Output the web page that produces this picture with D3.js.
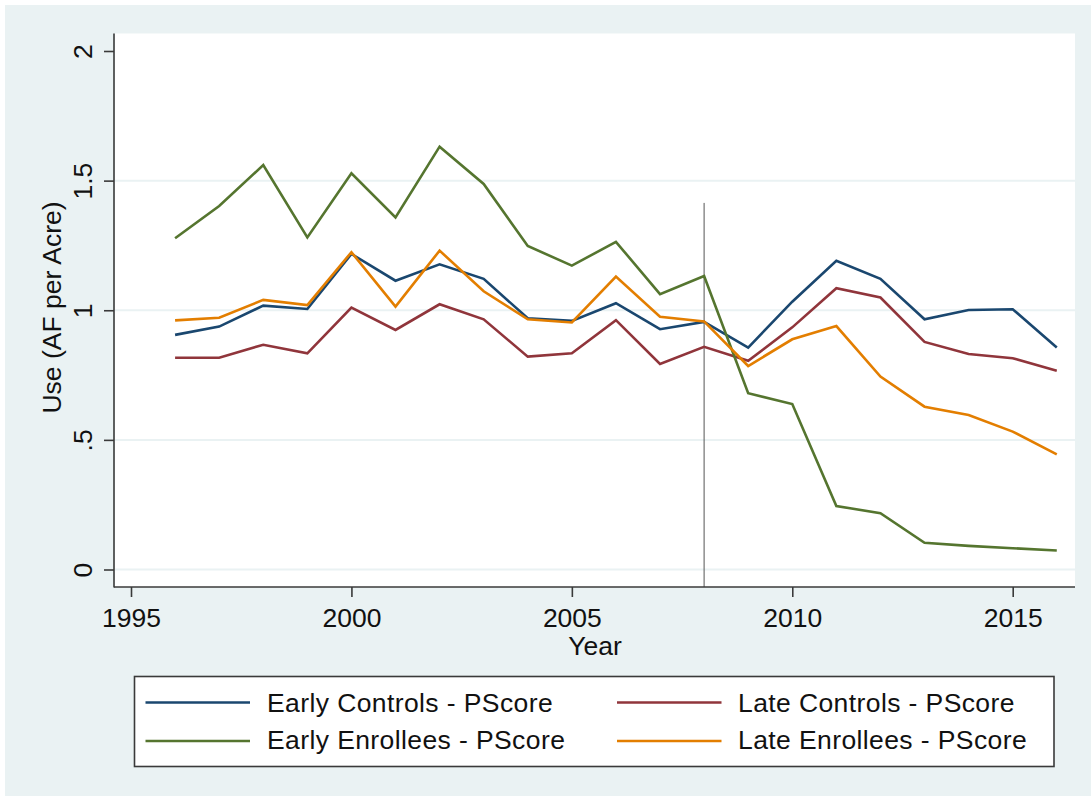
<!DOCTYPE html>
<html>
<head>
<meta charset="utf-8">
<script src="https://cdn.jsdelivr.net/npm/d3@7"></script>
<style>
  html, body { margin: 0; padding: 0; background: #ffffff; }
  svg { display: block; font-family: "Liberation Sans", Arial, Helvetica, sans-serif; }
</style>
</head>
<body>
<svg id="chart" width="1091" height="801"></svg>
<script>
// Annual water use by enrollment group, 1996-2016
const years = [1996, 1997, 1998, 1999, 2000, 2001, 2002, 2003, 2004, 2005, 2006,
               2007, 2008, 2009, 2010, 2011, 2012, 2013, 2014, 2015, 2016];

const earlyControls = [0.905, 0.937, 1.018, 1.005, 1.217, 1.114, 1.177, 1.121, 0.969, 0.959, 1.027,
                       0.927, 0.955, 0.856, 1.033, 1.191, 1.121, 0.965, 1.001, 1.004, 0.856];
const lateControls  = [0.817, 0.817, 0.867, 0.834, 1.010, 0.924, 1.023, 0.965, 0.821, 0.834, 0.962,
                       0.793, 0.859, 0.805, 0.934, 1.085, 1.049, 0.878, 0.831, 0.815, 0.767];
const earlyEnrollees = [1.278, 1.402, 1.560, 1.281, 1.528, 1.358, 1.631, 1.487, 1.248, 1.172, 1.264,
                        1.062, 1.132, 0.680, 0.638, 0.245, 0.217, 0.103, 0.091, 0.082, 0.073];
const lateEnrollees = [0.961, 0.971, 1.040, 1.020, 1.224, 1.014, 1.230, 1.073, 0.965, 0.953, 1.130,
                       0.975, 0.957, 0.785, 0.888, 0.939, 0.744, 0.628, 0.596, 0.532, 0.444];

const seriesNames = ["Early Controls - PScore", "Late Controls - PScore",
                     "Early Enrollees - PScore", "Late Enrollees - PScore"];

const xTickValues = [1995, 2000, 2005, 2010, 2015];
const yTickValues = [0, 0.5, 1, 1.5, 2];
const yTickLabels = ["0", ".5", "1", "1.5", "2"];
const yGridValues = [0, 0.5, 1, 1.5];

// Program start marker
const markerYear = 2008;
const markerTop = 1.414;

const series = [
  { name: seriesNames[0], values: earlyControls,  color: "#1a476f" },
  { name: seriesNames[1], values: lateControls,   color: "#90353b" },
  { name: seriesNames[2], values: earlyEnrollees, color: "#55752f" },
  { name: seriesNames[3], values: lateEnrollees,  color: "#e37e00" }
];

const svg = d3.select("#chart");
const W = 1091, H = 801;
const plot = { left: 115, right: 1075, top: 33.5, bottom: 587 };

const x = d3.scaleLinear().domain([1995, 2015]).range([131, 1012.7]);
const y = d3.scaleLinear().domain([0, 2]).range([569.5, 51]);

// Graph background and plot region
svg.append("rect").attr("x", 0).attr("y", 0).attr("width", W).attr("height", H).attr("fill", "#ffffff");
svg.append("rect").attr("x", 5).attr("y", 5).attr("width", W - 5).attr("height", H - 10).attr("fill", "#eaf2f3");
svg.append("rect")
  .attr("x", plot.left).attr("y", plot.top)
  .attr("width", plot.right - plot.left).attr("height", plot.bottom - plot.top)
  .attr("fill", "#ffffff");

// Horizontal grid
svg.append("g").selectAll("line").data(yGridValues).join("line")
  .attr("x1", plot.left).attr("x2", plot.right)
  .attr("y1", d => y(d)).attr("y2", d => y(d))
  .attr("stroke", "#eaf2f3").attr("stroke-width", 2);

// Vertical reference line
svg.append("line")
  .attr("x1", x(markerYear)).attr("x2", x(markerYear))
  .attr("y1", y(markerTop)).attr("y2", plot.bottom)
  .attr("stroke", "#555555").attr("stroke-width", 1);

// Series lines
const line = d3.line().x((d, i) => x(years[i])).y(d => y(d));
svg.append("g").selectAll("path").data(series).join("path")
  .attr("d", d => line(d.values))
  .attr("fill", "none")
  .attr("stroke", d => d.color)
  .attr("stroke-width", 2.6)
  .attr("stroke-linejoin", "miter");

// Y axis
const yAxis = d3.axisLeft(y).tickValues(yTickValues)
  .tickFormat((d, i) => yTickLabels[i]).tickSize(10).tickSizeOuter(0);
const gy = svg.append("g").attr("transform", "translate(114,0)").call(yAxis);
gy.select(".domain").remove();
gy.append("line").attr("x1", 0).attr("x2", 0).attr("y1", plot.top).attr("y2", plot.bottom + 0.5)
  .attr("stroke", "#3a3a3a").attr("stroke-width", 1.6);
gy.selectAll(".tick line").attr("stroke", "#3a3a3a").attr("stroke-width", 1.6);
gy.selectAll(".tick text")
  .attr("x", 0).attr("y", -22).attr("dy", 0)
  .attr("transform", "rotate(-90)")
  .attr("text-anchor", "middle")
  .attr("fill", "#111").style("font-size", "26.5px")
  .style("font-family", "\"Liberation Sans\", Arial, Helvetica, sans-serif");

// X axis
const xAxis = d3.axisBottom(x).tickValues(xTickValues).tickFormat(d3.format("d"))
  .tickSize(10).tickSizeOuter(0);
const gx = svg.append("g").attr("transform", `translate(0,${plot.bottom})`).call(xAxis);
gx.select(".domain").remove();
gx.append("line").attr("x1", 114).attr("x2", plot.right).attr("y1", 0).attr("y2", 0)
  .attr("stroke", "#3a3a3a").attr("stroke-width", 1.6);
gx.selectAll(".tick line").attr("stroke", "#3a3a3a").attr("stroke-width", 1.6);
gx.selectAll(".tick text")
  .attr("y", 40).attr("dy", 0)
  .attr("fill", "#111").style("font-size", "26.5px")
  .style("font-family", "\"Liberation Sans\", Arial, Helvetica, sans-serif");

// Axis titles
svg.append("text")
  .attr("x", (plot.left + plot.right) / 2).attr("y", 655)
  .attr("text-anchor", "middle").attr("fill", "#111").style("font-size", "26.5px")
  .text("Year");
svg.append("text")
  .attr("transform", "translate(61,307.5) rotate(-90)")
  .attr("text-anchor", "middle").attr("fill", "#111").style("font-size", "26.5px")
  .text("Use (AF per Acre)");

// Legend
const legend = svg.append("g");
legend.append("rect")
  .attr("x", 134.5).attr("y", 676.5).attr("width", 919.5).attr("height", 90)
  .attr("fill", "#ffffff").attr("stroke", "#3a3a3a").attr("stroke-width", 1.6);
const legendPos = [
  { lx: 145.5, tx: 267, ly: 702.5, ty: 711.7 },
  { lx: 617,   tx: 738, ly: 702.5, ty: 711.7 },
  { lx: 145.5, tx: 267, ly: 741,   ty: 748.6 },
  { lx: 617,   tx: 738, ly: 741,   ty: 748.6 }
];
const items = legend.selectAll("g.item").data(series).join("g").attr("class", "item");
items.append("line")
  .attr("x1", (d, i) => legendPos[i].lx).attr("x2", (d, i) => legendPos[i].lx + 104.5)
  .attr("y1", (d, i) => legendPos[i].ly).attr("y2", (d, i) => legendPos[i].ly)
  .attr("stroke", d => d.color).attr("stroke-width", 2.6);
items.append("text")
  .attr("x", (d, i) => legendPos[i].tx).attr("y", (d, i) => legendPos[i].ty)
  .attr("fill", "#111").style("font-size", "26.5px").style("letter-spacing", "0.4px")
  .text(d => d.name);
</script>
</body>
</html>
